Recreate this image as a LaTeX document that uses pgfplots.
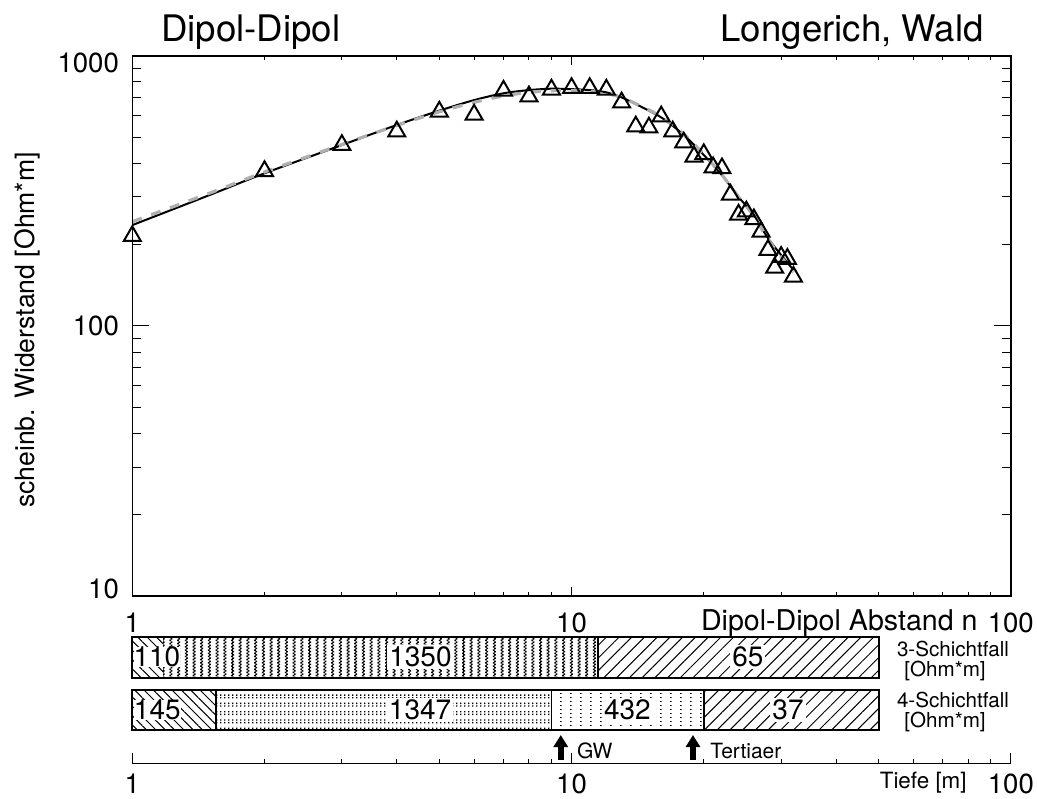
\documentclass[border=0pt]{standalone}
\usepackage{fontspec}
\setmainfont{TeX Gyre Heros}
\usepackage{pgfplots}
\pgfplotsset{compat=1.18}
\usetikzlibrary{patterns,patterns.meta,arrows.meta}

\newcommand{\fs}[1]{\fontsize{#1}{#1}\selectfont}

\pgfdeclarepatternformonly{vdots}{\pgfqpoint{0pt}{0pt}}{\pgfqpoint{1.5pt}{1.6pt}}{\pgfqpoint{3.85pt}{1.6pt}}{%
  \pgfpathrectangle{\pgfqpoint{0pt}{0pt}}{\pgfqpoint{0.9pt}{0.75pt}}%
  \pgfpathrectangle{\pgfqpoint{0.6pt}{0.8pt}}{\pgfqpoint{0.9pt}{0.75pt}}%
  \pgfusepath{fill}}
\pgfdeclarepatternformonly{densedots}{\pgfqpoint{0pt}{0pt}}{\pgfqpoint{0.7pt}{2pt}}{\pgfqpoint{2pt}{4.15pt}}{%
  \pgfpathrectangle{\pgfqpoint{0pt}{0pt}}{\pgfqpoint{0.7pt}{0.7pt}}%
  \pgfpathrectangle{\pgfqpoint{0pt}{1.3pt}}{\pgfqpoint{0.7pt}{0.7pt}}%
  \pgfusepath{fill}}
\pgfdeclarepatternformonly{sparsedots}{\pgfqpoint{0pt}{0pt}}{\pgfqpoint{0.8pt}{0.8pt}}{\pgfqpoint{5pt}{2pt}}{%
  \pgfpathrectangle{\pgfqpoint{0pt}{0pt}}{\pgfqpoint{0.75pt}{0.75pt}}%
  \pgfusepath{fill}}

\definecolor{lgray}{RGB}{175,175,175}

\begin{document}
\begin{tikzpicture}
\path[use as bounding box] (0,0) rectangle (518.5pt,-399pt);

% ---------- main axis: data, x ticks, labels ----------
\begin{axis}[
  at={(66.15pt,-298pt)}, anchor=south west, scale only axis,
  width=439.25pt, height=270.15pt,
  xmode=log, ymode=log, xmin=1, xmax=100, ymin=10, ymax=1000,
  xticklabels={1,10,100},
  ytick={10,100,1000}, yticklabels={10,100,1000},
  tick align=inside,
  major tick length=4.5pt, minor tick length=2.2pt,
  ytick style={draw=none}, minor y tick style={draw=none},
  tick style={line width=0.5pt, black},
  axis line style={line width=0.8pt},
  /pgf/number format/assume math mode=true,
  ticklabel style={font=\fs{13.8}},
  xticklabel style={inner sep=0pt, anchor=north, yshift=-8.5pt},
  yticklabel style={inner sep=0pt, anchor=east, xshift=-6.5pt,
     yshift={(\ticknum==0)*3.7pt-(\ticknum==2)*3.7pt}},
  clip=false,
]
\addplot[black, line width=1pt, smooth] coordinates {
 (1,236) (1.5,305) (2,367) (3,467) (4,554) (5,626) (6,685) (7,726) (8,746)
 (9,755) (10,752) (11,746) (12,732) (13,701) (14,662) (16,591) (18,509)
 (20,429) (22,361) (24,300) (26,257) (28,211) (30,183) (32,161)};
\addplot[lgray, line width=1.6pt, smooth, dash pattern=on 5pt off 5pt] coordinates {
 (1,243) (1.5,310) (2,371) (3,469) (4,552) (5,620) (6,672) (7,710) (8,732)
 (9,742) (10,743) (11,738) (12,726) (13,700) (14,665) (16,595) (18,513)
 (20,432) (22,362) (24,300) (26,255) (28,209) (30,180) (32,158)};
\addplot[only marks, mark=triangle, mark size=4.9pt, mark options={black, line width=1pt, fill=none}] coordinates {
 (1,215) (2,374) (3,467) (4,524) (5,621) (6,605) (7,742) (8,707) (9,749)
 (10,759) (11,759) (12,749) (13,671) (14,547) (15,542) (16,596) (17,524)
 (18,477) (19,423) (20,432) (21,386) (22,383) (23,306) (24,258) (25,265)
 (26,248) (27,223) (28,191) (29,164) (30,180) (31,177) (32,152)};
\end{axis}

% ---------- overlay axis: y ticks with longer lengths ----------
\begin{axis}[
  at={(66.15pt,-298pt)}, anchor=south west, scale only axis,
  width=439.25pt, height=270.15pt,
  ymode=log, xmin=0, xmax=1, ymin=10, ymax=1000,
  xtick=\empty, yticklabels={,,,,},
  tick align=inside,
  major tick length=8.5pt, minor tick length=4.3pt,
  tick style={line width=0.5pt, black},
  axis line style={line width=0.8pt},
]
\end{axis}

% ---------- layer axis (depth) ----------
\begin{axis}[
  at={(66.15pt,-381.65pt)}, anchor=south west, scale only axis,
  width=439.25pt, height=63.15pt,
  xmode=log, xmin=1, xmax=100, ymin=34.7, ymax=161,
  axis x line*=bottom, axis y line=none,
  tick align=inside, xtick pos=bottom,
  major tick length=5pt, minor tick length=2pt,
  tick style={line width=0.5pt, black},
  axis line style={line width=0.8pt},
  xticklabels={1,10,100},
  /pgf/number format/assume math mode=true,
  xticklabel style={inner sep=0pt, anchor=north, yshift=-5pt, font=\fs{13.8}},
  clip=false,
]
% 3-layer case
\addplot[draw=none, pattern={Lines[angle=-45,distance=3.3pt,line width=0.5pt]}] coordinates {(1,120.3) (1.175,120.3) (1.175,161) (1,161)} -- cycle;
\addplot[draw=none, pattern=vdots] coordinates {(1.175,120.3) (11.5,120.3) (11.5,161) (1.175,161)} -- cycle;
\addplot[draw=none, pattern={Lines[angle=45,distance=4.5pt,line width=0.5pt]}] coordinates {(11.5,120.3) (50,120.3) (50,161) (11.5,161)} -- cycle;
% 4-layer case
\addplot[draw=none, pattern={Lines[angle=-45,distance=3.3pt,line width=0.5pt]}] coordinates {(1,68) (1.55,68) (1.55,108) (1,108)} -- cycle;
\addplot[draw=none, pattern=densedots] coordinates {(1.55,68) (9.0,68) (9.0,108) (1.55,108)} -- cycle;
\addplot[draw=none, pattern=sparsedots] coordinates {(9.0,68) (20,68) (20,108) (9.0,108)} -- cycle;
\addplot[draw=none, pattern={Lines[angle=45,distance=4.5pt,line width=0.5pt]}] coordinates {(20,68) (50,68) (50,108) (20,108)} -- cycle;
% labels
\node[fill=white, inner sep=0pt, font=\fs{14}] at (1.138,141) {110};
\node[fill=white, inner sep=1pt, font=\fs{14}] at (4.53,141) {1350};
\node[fill=white, inner sep=1pt, font=\fs{14}] at (25.2,141) {65};
\node[fill=white, inner sep=0pt, font=\fs{14}] at (1.14,88) {145};
\node[fill=white, inner sep=1pt, font=\fs{14}] at (4.52,88) {1347};
\node[fill=white, inner sep=1pt, font=\fs{14}] at (13.4,88) {432};
\node[fill=white, inner sep=1pt, font=\fs{14}] at (31.1,88) {37};
% outlines and dividers
\addplot[black, line width=1pt] coordinates {(1,120.3) (50,120.3) (50,161) (1,161)} -- cycle;
\addplot[black, line width=1pt] coordinates {(1,68) (50,68) (50,108) (1,108)} -- cycle;
\addplot[black, line width=1pt] coordinates {(11.5,120.3) (11.5,161)};
\addplot[black, line width=0.8pt] coordinates {(1.55,68) (1.55,108)};
\addplot[black, line width=0.8pt] coordinates {(9.0,68) (9.0,108)};
\addplot[black, line width=0.8pt] coordinates {(20,68) (20,108)};
% arrows
\draw[line width=3pt, -{Triangle[width=7pt,length=6pt]}] (9.45,38) -- (9.45,63);
\draw[line width=3pt, -{Triangle[width=7pt,length=6pt]}] (18.9,38) -- (18.9,63);
\end{axis}

% ---------- texts ----------
\node[anchor=base west, inner sep=0pt, font=\fs{18.3}] at (80.5pt,-20.9pt) {Dipol-Dipol};
\node[anchor=base east, inner sep=0pt, font=\fs{18.3}] at (492pt,-20.9pt) {Longerich, Wald};
\node[rotate=90, inner sep=0pt, font=\fs{13.3}] at (13.5pt,-165pt) {scheinb. Widerstand [Ohm*m]};
\node[anchor=base east, inner sep=0pt, font=\fs{14.3}] at (489pt,-315pt) {Dipol-Dipol Abstand n};
\node[anchor=base east, inner sep=0pt, font=\fs{11.2}] at (483.5pt,-394pt) {Tiefe [m]};
\node[anchor=base west, inner sep=0pt, font=\fs{10.3}] at (448.3pt,-328.3pt) {3-Schichtfall};
\node[anchor=base west, inner sep=0pt, font=\fs{10.3}] at (452pt,-338.3pt) {[Ohm*m]};
\node[anchor=base west, inner sep=0pt, font=\fs{10.3}] at (448.3pt,-353.8pt) {4-Schichtfall};
\node[anchor=base west, inner sep=0pt, font=\fs{10.3}] at (452pt,-363.8pt) {[Ohm*m]};
\node[anchor=base west, inner sep=0pt, font=\fs{10.5}] at (288.3pt,-379pt) {GW};
\node[anchor=base west, inner sep=0pt, font=\fs{10.5}] at (355pt,-379pt) {Tertiaer};
\end{tikzpicture}
\end{document}
